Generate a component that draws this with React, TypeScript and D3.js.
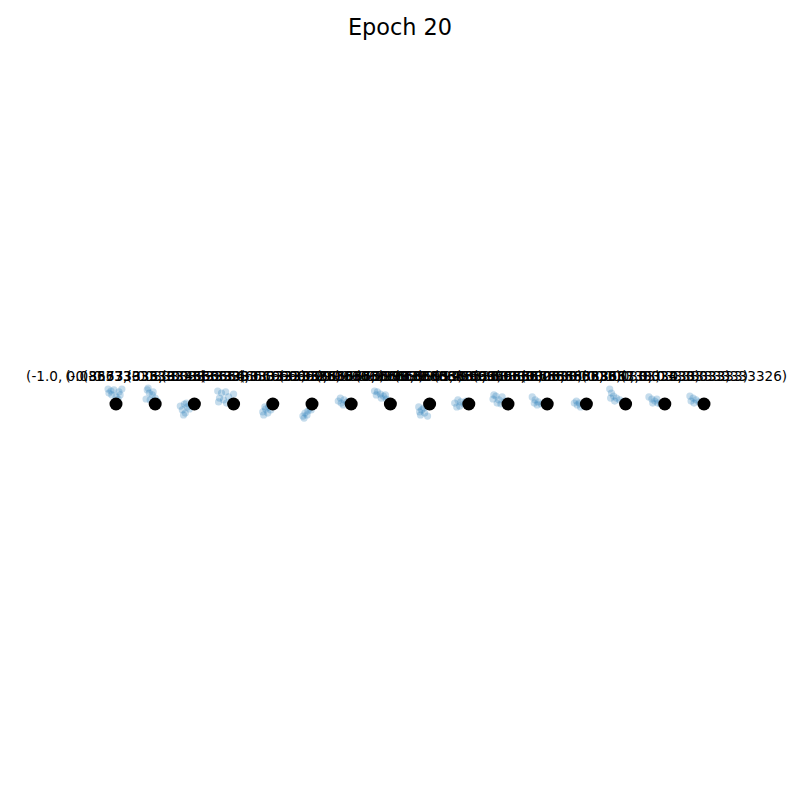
import React from "react";
import * as d3 from "d3";

const title = "Epoch 20";
const gridX = [-1.0, -0.8667, -0.7333, -0.6, -0.4667, -0.3333, -0.2, -0.0667, 0.0667, 0.2, 0.3333, 0.4667, 0.6, 0.7333, 0.8667, 1.0];
const gridY = [0, 0, 0, 0, 0, 0, 0, 0, 0, 0, 0, 0, 0, 0, 0, 0];
const labels = [
  "(-1.0, 0.03333333333333)",
  "(-0.8667, 0.03333333333)",
  "(-0.7333333333333334, 0.0333)",
  "(-0.6, 0.033333333333333326)",
  "(-0.4666666666666667, 0.0333)",
  "(-0.33333333333333337, 0.033)",
  "(-0.19999999999999996, 0.033)",
  "(-0.06666666666666665, 0.033)",
  "(0.06666666666666665, 0.0333)",
  "(0.19999999999999996, 0.0333)",
  "(0.33333333333333326, 0.0333)",
  "(0.46666666666666656, 0.0333)",
  "(0.6000000000000001, 0.03333)",
  "(0.7333333333333334, 0.033)",
  "(0.8667, 0.0333333333)",
  "(1.0, 0.0333333333326)",
];
// offsets of the sample points (data units) from each grid point
const clouds: number[][][] = [
  [[-0.027,0.051],[-0.017,0.044],[-0.007,0.048],[0.010,0.041],[0.020,0.051],[-0.014,0.031],[0.000,0.024],[0.007,0.017],[-0.024,0.037],[0.014,0.031]],
  [[-0.027,0.048],[-0.020,0.037],[-0.010,0.031],[-0.031,0.017],[-0.017,0.014],[0.000,0.020],[0.007,0.010],[-0.024,0.054],[-0.007,0.041]],
  [[-0.048,-0.007],[-0.034,0.000],[-0.024,-0.010],[-0.041,-0.020],[-0.031,-0.031],[-0.017,-0.017],[-0.037,-0.037],[-0.010,-0.003],[-0.027,0.003]],
  [[-0.054,0.044],[-0.041,0.037],[-0.027,0.041],[-0.048,0.020],[-0.034,0.014],[-0.017,0.024],[-0.007,0.010],[0.000,0.034],[-0.051,0.007],[-0.024,0.003]],
  [[-0.034,-0.027],[-0.024,-0.017],[-0.014,-0.010],[-0.031,-0.037],[-0.017,-0.031],[-0.007,-0.020],[-0.027,-0.010]],
  [[-0.031,-0.041],[-0.024,-0.031],[-0.014,-0.024],[-0.007,-0.014],[-0.027,-0.048],[-0.017,-0.037],[-0.003,-0.020]],
  [[-0.044,0.010],[-0.034,0.003],[-0.024,0.014],[-0.014,0.007],[-0.037,0.020],[-0.007,-0.003],[-0.027,-0.003]],
  [[-0.054,0.044],[-0.044,0.041],[-0.034,0.034],[-0.024,0.027],[-0.014,0.017],[-0.007,0.010],[-0.048,0.031],[-0.031,0.020],[-0.017,0.031],[-0.003,0.000]],
  [[-0.037,-0.010],[-0.027,-0.020],[-0.017,-0.031],[-0.007,-0.041],[-0.031,-0.037],[-0.020,-0.014],[-0.010,-0.007],[-0.034,-0.027]],
  [[-0.048,0.003],[-0.037,0.014],[-0.027,0.007],[-0.017,0.000],[-0.041,-0.010],[-0.010,0.010],[-0.031,-0.007]],
  [[-0.051,0.017],[-0.041,0.027],[-0.031,0.014],[-0.020,0.024],[-0.010,0.010],[-0.037,0.003],[-0.024,0.000],[-0.048,0.031]],
  [[-0.051,0.024],[-0.041,0.014],[-0.031,0.007],[-0.020,0.000],[-0.010,0.003],[-0.034,-0.003],[-0.044,0.003]],
  [[-0.041,0.003],[-0.031,-0.003],[-0.020,-0.010],[-0.010,0.000],[-0.034,0.010],[-0.024,0.003]],
  [[-0.054,0.051],[-0.048,0.037],[-0.041,0.027],[-0.031,0.020],[-0.020,0.014],[-0.010,0.007],[-0.051,0.020],[-0.037,0.010]],
  [[-0.054,0.024],[-0.044,0.017],[-0.034,0.010],[-0.024,0.003],[-0.014,0.000],[-0.041,0.003],[-0.027,0.017]],
  [[-0.048,0.027],[-0.037,0.020],[-0.027,0.014],[-0.017,0.007],[-0.007,0.000],[-0.034,0.003],[-0.044,0.010]],
];

const W = 800, H = 800;
const plot = { left: 100, right: 720, top: 96, bottom: 712 };

export default function App() {
  const x = d3.scaleLinear().domain([-1.0544, 1.0544]).range([plot.left, plot.right]);
  const y = d3.scaleLinear().domain([-1.0476, 1.0476]).range([plot.bottom, plot.top]);
  const font = "'DejaVu Sans', sans-serif";
  return (
    <svg width={W} height={H} style={{ position: "absolute", left: 0, top: 0, background: "#fff" }}>
      <rect width={W} height={H} fill="#fff" />
      <text x={W / 2} y={35} textAnchor="middle" fontFamily={font} fontSize={22.4} fill="#000">{title}</text>
      <g>
        {clouds.map((c, i) =>
          c.map((p, j) => (
            <circle key={`b${i}-${j}`} cx={x(gridX[i] + p[0])} cy={y(gridY[i] + p[1])} r={3.6} fill="#1f77b4" fillOpacity={0.26} />
          ))
        )}
      </g>
      <g>
        {gridX.map((gx, i) => (
          <circle key={`k${i}`} cx={x(gx)} cy={y(gridY[i])} r={6.5} fill="#000" />
        ))}
      </g>
      <g>
        {gridX.map((gx, i) => (
          <text key={`t${i}`} x={x(gx)} y={y(gridY[i]) - 23} textAnchor="middle" fontFamily={font} fontSize={13.6} fill="#000">{labels[i]}</text>
        ))}
      </g>
    </svg>
  );
}
